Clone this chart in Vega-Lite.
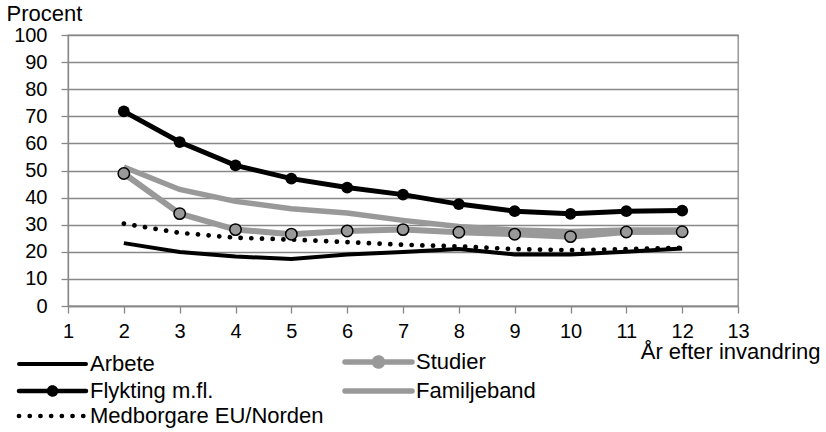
{
  "$schema": "https://vega.github.io/schema/vega-lite/v6.json",
  "width": 670,
  "height": 271,
  "autosize": {"type": "none"},
  "padding": {"left": 68, "top": 35, "right": 88, "bottom": 126},
  "background": "white",
  "config": {
    "font": "Liberation Sans",
    "view": {"stroke": "#888", "strokeWidth": 1.3},
    "axis": {"labelFont": "Liberation Sans", "titleFont": "Liberation Sans", "labelColor": "black", "titleColor": "black", "titleFontWeight": "normal", "domainColor": "#888", "domainWidth": 1.3, "tickColor": "#888", "tickWidth": 1.3, "gridColor": "#888", "gridWidth": 1.3, "gridOpacity": 1}
  },
  "data": {"values": [
    {"series": "Arbete", "year": 2, "value": 23.2}, {"series": "Arbete", "year": 3, "value": 19.9}, {"series": "Arbete", "year": 4, "value": 18.3}, {"series": "Arbete", "year": 5, "value": 17.3}, {"series": "Arbete", "year": 6, "value": 19}, {"series": "Arbete", "year": 7, "value": 19.9}, {"series": "Arbete", "year": 8, "value": 21}, {"series": "Arbete", "year": 9, "value": 19}, {"series": "Arbete", "year": 10, "value": 19}, {"series": "Arbete", "year": 11, "value": 20}, {"series": "Arbete", "year": 12, "value": 21.2},
    {"series": "Flykting m.fl.", "year": 2, "value": 71.8}, {"series": "Flykting m.fl.", "year": 3, "value": 60.5}, {"series": "Flykting m.fl.", "year": 4, "value": 51.9}, {"series": "Flykting m.fl.", "year": 5, "value": 47}, {"series": "Flykting m.fl.", "year": 6, "value": 43.7}, {"series": "Flykting m.fl.", "year": 7, "value": 41.1}, {"series": "Flykting m.fl.", "year": 8, "value": 37.6}, {"series": "Flykting m.fl.", "year": 9, "value": 35}, {"series": "Flykting m.fl.", "year": 10, "value": 34}, {"series": "Flykting m.fl.", "year": 11, "value": 35}, {"series": "Flykting m.fl.", "year": 12, "value": 35.2},
    {"series": "Studier", "year": 2, "value": 48.9}, {"series": "Studier", "year": 3, "value": 34.1}, {"series": "Studier", "year": 4, "value": 28.2}, {"series": "Studier", "year": 5, "value": 26.5}, {"series": "Studier", "year": 6, "value": 27.7}, {"series": "Studier", "year": 7, "value": 28.2}, {"series": "Studier", "year": 8, "value": 27.2}, {"series": "Studier", "year": 9, "value": 26.5}, {"series": "Studier", "year": 10, "value": 25.6}, {"series": "Studier", "year": 11, "value": 27.3}, {"series": "Studier", "year": 12, "value": 27.4},
    {"series": "Familjeband", "year": 2, "value": 51.3}, {"series": "Familjeband", "year": 3, "value": 43}, {"series": "Familjeband", "year": 4, "value": 38.6}, {"series": "Familjeband", "year": 5, "value": 35.9}, {"series": "Familjeband", "year": 6, "value": 34.3}, {"series": "Familjeband", "year": 7, "value": 31.6}, {"series": "Familjeband", "year": 8, "value": 29.3}, {"series": "Familjeband", "year": 9, "value": 28}, {"series": "Familjeband", "year": 10, "value": 27.5}, {"series": "Familjeband", "year": 11, "value": 28}, {"series": "Familjeband", "year": 12, "value": 28},
    {"series": "Medborgare EU/Norden", "year": 2, "value": 30.4}, {"series": "Medborgare EU/Norden", "year": 3, "value": 27}, {"series": "Medborgare EU/Norden", "year": 4, "value": 25.2}, {"series": "Medborgare EU/Norden", "year": 5, "value": 24.5}, {"series": "Medborgare EU/Norden", "year": 6, "value": 23.6}, {"series": "Medborgare EU/Norden", "year": 7, "value": 22.6}, {"series": "Medborgare EU/Norden", "year": 8, "value": 22}, {"series": "Medborgare EU/Norden", "year": 9, "value": 21}, {"series": "Medborgare EU/Norden", "year": 10, "value": 20.6}, {"series": "Medborgare EU/Norden", "year": 11, "value": 21}, {"series": "Medborgare EU/Norden", "year": 12, "value": 21.5}
  ]},
  "encoding": {
    "x": {"field": "year", "type": "quantitative",
      "scale": {"domain": [1, 13], "nice": false, "zero": false},
      "axis": {"values": [1,2,3,4,5,6,7,8,9,10,11,12,13], "grid": false, "tickSize": 7, "labelPadding": 8, "labelFontSize": 20, "labelFlush": false,
        "title": "År efter invandring", "titleFontSize": 22, "titleAnchor": "start", "titleAlign": "right", "titleBaseline": "alphabetic", "titleX": 752, "titleY": 52}},
    "y": {"field": "value", "type": "quantitative",
      "scale": {"domain": [0, 100], "nice": false},
      "axis": {"values": [0,10,20,30,40,50,60,70,80,90,100], "grid": true, "tickSize": 7, "labelPadding": 14, "labelFontSize": 20,
        "title": "Procent", "titleFontSize": 22, "titleAngle": 0, "titleAlign": "left", "titleBaseline": "alphabetic", "titleX": -62, "titleY": -15}}
  },
  "layer": [
    {"transform": [{"filter": "datum.series === 'Familjeband'"}],
     "mark": {"type": "line", "strokeWidth": 5.5, "strokeCap": "butt"},
     "encoding": {"stroke": {"field": "series", "type": "nominal",
       "scale": {"domain": ["Arbete", "Flykting m.fl.", "Medborgare EU/Norden", "Studier", "Familjeband"], "range": ["black", "black", "black", "#999999", "#999999"]},
       "legend": {"title": null, "orient": "none", "legendX": -55, "legendY": 316, "columns": 2, "columnPadding": 10, "rowPadding": 1, "padding": 0,
         "labelFont": "Liberation Sans", "labelFontSize": 22, "labelColor": "black", "labelLimit": 400, "labelOffset": 55,
         "symbolSize": 100, "symbolStrokeWidth": 4,
         "encode": {"symbols": {"update": {
           "shape": {"signal": "datum.value === 'Flykting m.fl.' ? 'M-1,0H12.4M6.4,0A0.7,0.7 0 1,1 5,0A0.7,0.7 0 1,1 6.4,0' : datum.value === 'Studier' ? 'M-1,0H12.4M6.5,0A0.8,0.8 0 1,1 4.9,0A0.8,0.8 0 1,1 6.5,0' : 'M-1,0H12.4'"},
           "fill": {"signal": "datum.value === 'Flykting m.fl.' ? 'black' : datum.value === 'Studier' ? '#999999' : 'transparent'"},
           "fillOpacity": {"value": 1},
           "strokeWidth": {"signal": "datum.value === 'Arbete' ? 4 : datum.value === 'Flykting m.fl.' ? 4.5 : datum.value === 'Medborgare EU/Norden' ? 4.7 : 5.5"},
           "strokeDash": {"signal": "datum.value === 'Medborgare EU/Norden' ? [0.1, 10.6] : [1, 0]"},
           "strokeCap": {"value": "round"}
         }}}}}}},
    {"transform": [{"filter": "datum.series === 'Studier'"}],
     "mark": {"type": "line", "strokeWidth": 6},
     "encoding": {"stroke": {"field": "series", "type": "nominal"}}},
    {"transform": [{"filter": "datum.series === 'Medborgare EU/Norden'"}],
     "mark": {"type": "line", "strokeWidth": 4.7, "strokeDash": [0.1, 10.6], "strokeCap": "round"},
     "encoding": {"stroke": {"field": "series", "type": "nominal"}}},
    {"transform": [{"filter": "datum.series === 'Arbete'"}],
     "mark": {"type": "line", "strokeWidth": 4},
     "encoding": {"stroke": {"field": "series", "type": "nominal"}}},
    {"transform": [{"filter": "datum.series === 'Flykting m.fl.'"}],
     "mark": {"type": "line", "strokeWidth": 5},
     "encoding": {"stroke": {"field": "series", "type": "nominal"}}},
    {"transform": [{"filter": "datum.series === 'Studier'"}],
     "mark": {"type": "point", "shape": "circle", "filled": true, "fill": "#999999", "stroke": "black", "strokeWidth": 1.5, "size": 130, "opacity": 1}},
    {"transform": [{"filter": "datum.series === 'Flykting m.fl.'"}],
     "mark": {"type": "point", "shape": "circle", "filled": true, "fill": "black", "size": 140, "opacity": 1}}
  ]
}
